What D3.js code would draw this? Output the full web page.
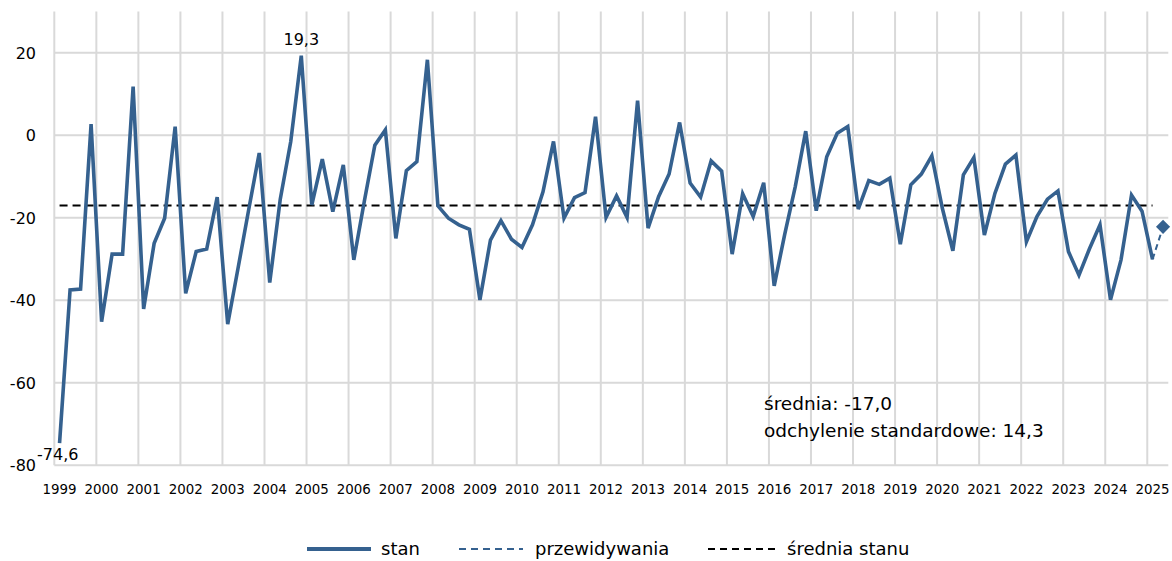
<!DOCTYPE html>
<html>
<head>
<meta charset="utf-8">
<script src="https://cdn.jsdelivr.net/npm/d3@7"></script>
<style>
  html, body { margin: 0; padding: 0; background: #fff; }
  svg { display: block; font-family: "DejaVu Sans", Verdana, sans-serif; }
</style>
</head>
<body>
<svg id="chart" width="1172" height="561"></svg>
<script>
// ---- data ----
const years = d3.range(1999, 2026).map(String);
const quarters = [];
years.forEach(yr => [1, 2, 3, 4].forEach(q => quarters.push(yr + "Q" + q)));
const categories = quarters.slice(0, 106); // 1999Q1 .. 2025Q2

const stan = [
  -74.6, -37.5, -37.3, 2.7,
  -45.2, -28.8, -28.8, 11.8,
  -42.1, -26.2, -20.1, 2.1,
  -38.3, -28.2, -27.6, -15.0,
  -45.8, -32.0, -18.0, -4.3,
  -35.7, -15.5, -1.5, 19.3,
  -16.9, -5.8, -18.5, -7.2,
  -30.2, -16.0, -2.4, 1.3,
  -25.0, -8.6, -6.4, 18.3,
  -17.1, -20.1, -21.7, -22.8,
  -39.9, -25.4, -20.7, -25.2,
  -27.2, -21.7, -13.7, -1.5,
  -20.1, -15.1, -13.9, 4.5,
  -19.9, -14.7, -19.9, 8.4,
  -22.5, -14.9, -9.4, 3.1,
  -11.6, -15.0, -6.2, -8.7,
  -28.8, -14.2, -19.7, -11.5,
  -36.5, -24.0, -12.5, 1.0,
  -18.3, -5.2, 0.5, 2.1,
  -17.9, -11.0, -11.9, -10.4,
  -26.4, -12.0, -9.4, -5.0,
  -17.7, -28.0, -9.6, -5.4,
  -24.2, -14.1, -7.0, -4.8,
  -25.8, -19.7, -15.5, -13.5,
  -28.2, -33.9, -27.5, -21.7,
  -39.9, -30.2, -14.5, -18.4,
  -30.1
];
const forecastCats = ["2025Q1", "2025Q2"];
const forecastVals = [-30.1, -22.2];
const meanValue = -17.0;
const stdValue = 14.3;
const yTicks = [-80, -60, -40, -20, 0, 20];
const yearLabels = years;
const seriesNames = ["stan", "przewidywania", "średnia stanu"];

// ---- layout ----
const svg = d3.select("#chart");
const pLeft = 54.3, pRight = 1168.3, pTop = 11.5, pBottom = 465.3;
const blue = "#35618f";
const gridColor = "#d9d9d9";
const fmt = v => v.toFixed(1).replace(".", ",");

const x = d3.scaleBand().domain(categories).range([pLeft, pRight]).paddingInner(0).paddingOuter(0);
const cx = c => x(c) + x.bandwidth() / 2;
const y = d3.scaleLinear().domain([-80, 30]).range([pBottom, pTop]);

// horizontal gridlines
svg.append("g").selectAll("line").data(yTicks).join("line")
  .attr("x1", pLeft).attr("x2", pRight)
  .attr("y1", d => y(d)).attr("y2", d => y(d))
  .attr("stroke", gridColor).attr("stroke-width", 2);

// vertical gridlines at year boundaries
svg.append("g").selectAll("line").data(yearLabels).join("line")
  .attr("x1", d => x(d + "Q1")).attr("x2", d => x(d + "Q1"))
  .attr("y1", pTop).attr("y2", pBottom)
  .attr("stroke", gridColor).attr("stroke-width", 2);

// y axis labels
svg.append("g").selectAll("text").data(yTicks).join("text")
  .attr("x", 36).attr("y", d => y(d)).attr("dy", "0.36em")
  .attr("text-anchor", "end").attr("font-size", 16).attr("fill", "#000")
  .text(d => d);

// x axis labels
svg.append("g").selectAll("text").data(yearLabels).join("text")
  .attr("x", d => cx(d + "Q1")).attr("y", 494)
  .attr("text-anchor", "middle").attr("font-size", 13.4).attr("fill", "#000")
  .text(d => d);

// mean line
const meanCats = categories.slice(0, stan.length);
svg.append("line")
  .attr("x1", cx(meanCats[0])).attr("x2", cx(meanCats[meanCats.length - 1]))
  .attr("y1", y(meanValue)).attr("y2", y(meanValue))
  .attr("stroke", "#000").attr("stroke-width", 2).attr("stroke-dasharray", "8,5");

// stan line
const line = d3.line().x(d => cx(d[0])).y(d => y(d[1]));
svg.append("path")
  .datum(stan.map((v, i) => [categories[i], v]))
  .attr("d", line).attr("fill", "none")
  .attr("stroke", blue).attr("stroke-width", 3.6).attr("stroke-linejoin", "miter");

// forecast
svg.append("path")
  .datum(forecastCats.map((c, i) => [c, forecastVals[i]]))
  .attr("d", line).attr("fill", "none")
  .attr("stroke", blue).attr("stroke-width", 2).attr("stroke-dasharray", "6,4");
const lastF = forecastCats.length - 1;
svg.append("path")
  .attr("d", d3.symbol(d3.symbolSquare, 100)())
  .attr("transform", `translate(${cx(forecastCats[lastF])},${y(forecastVals[lastF])}) rotate(45)`)
  .attr("fill", blue);

// data labels: max and min
const maxI = d3.maxIndex(stan), minI = d3.minIndex(stan);
svg.append("text").attr("x", cx(categories[maxI])).attr("y", 45)
  .attr("text-anchor", "middle").attr("font-size", 16).attr("fill", "#000")
  .text(fmt(stan[maxI]));
svg.append("text").attr("x", 37).attr("y", 460)
  .attr("text-anchor", "start").attr("font-size", 16).attr("fill", "#000")
  .text(fmt(stan[minI]));

// annotation
svg.append("text").attr("x", 764).attr("y", 410).attr("font-size", 18.5).attr("fill", "#000")
  .text("średnia: " + fmt(meanValue));
svg.append("text").attr("x", 764).attr("y", 437).attr("font-size", 18.5).attr("fill", "#000")
  .text("odchylenie standardowe: " + fmt(stdValue));

// legend
const ly = 549;
const lg = svg.append("g");
lg.append("line").attr("x1", 307).attr("x2", 371).attr("y1", ly).attr("y2", ly)
  .attr("stroke", blue).attr("stroke-width", 4);
lg.append("text").attr("x", 381).attr("y", ly).attr("dy", "0.35em").attr("font-size", 18).text(seriesNames[0]);
lg.append("line").attr("x1", 459).attr("x2", 523).attr("y1", ly).attr("y2", ly)
  .attr("stroke", blue).attr("stroke-width", 1.8).attr("stroke-dasharray", "7,5");
lg.append("text").attr("x", 535).attr("y", ly).attr("dy", "0.35em").attr("font-size", 18).text(seriesNames[1]);
lg.append("line").attr("x1", 708).attr("x2", 775).attr("y1", ly).attr("y2", ly)
  .attr("stroke", "#000").attr("stroke-width", 1.8).attr("stroke-dasharray", "7,5");
lg.append("text").attr("x", 787).attr("y", ly).attr("dy", "0.35em").attr("font-size", 18).text(seriesNames[2]);
</script>
</body>
</html>
